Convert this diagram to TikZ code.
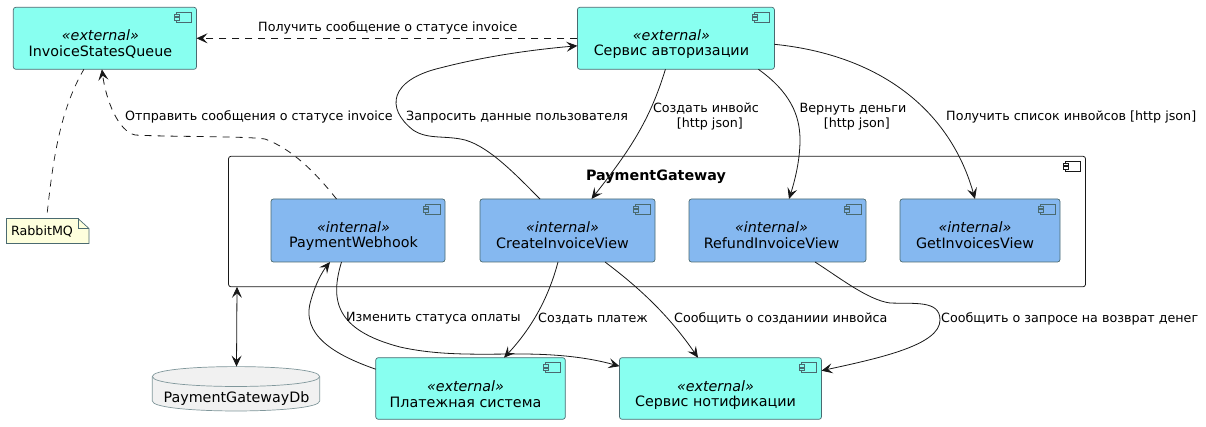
\documentclass[tikz,border=0pt]{standalone}
\usepackage{fontspec}
\setmainfont{DejaVu Sans}
\usetikzlibrary{arrows.meta}
\definecolor{extfill}{HTML}{88FFF0}
\definecolor{intfill}{HTML}{85B8F0}
\definecolor{notefill}{HTML}{FEFFDD}
\definecolor{dbfill}{HTML}{F1F1F1}
\definecolor{ink}{HTML}{181818}
\definecolor{edge}{HTML}{4A6A70}
\colorlet{externalfill}{extfill}
\colorlet{internalfill}{intfill}
\newcommand{\fmain}{\fontsize{14.3}{16}\selectfont}
\newcommand{\flab}{\fontsize{13}{15}\selectfont}
\tikzset{
  x=1pt,y=-1pt,
  box/.style={draw=edge,line width=.7pt,rounded corners=2.5pt,inner sep=0pt,outer sep=0pt,anchor=north west},
  ext/.style={box,fill=extfill},
  int/.style={box,fill=intfill},
  pkgbox/.style={draw=ink,line width=.8pt,rounded corners=2.5pt,inner sep=0pt,outer sep=0pt,anchor=north west},
  ctext/.style={font=\fmain,text=black,align=center,inner sep=0pt},
  lab/.style={font=\flab,text=black,align=center,inner sep=0pt,transform shape,scale=.977},
  conn/.style={draw=ink,line width=.8pt,-{Stealth[length=11pt,width=10pt,inset=4.5pt]}},
  connd/.style={conn,dash pattern=on 7pt off 6pt},
  plain/.style={draw=ink,line width=.7pt,dash pattern=on 7pt off 6pt},
  both/.style={draw=ink,line width=.8pt,{Stealth[length=11pt,width=10pt,inset=4.5pt]}-{Stealth[length=11pt,width=10pt,inset=4.5pt]}},
  icon/.style={draw=edge,line width=.7pt,fill=none}
}
\newcommand{\cmp}[9]{%
  \node[#6,minimum width=#4pt,minimum height=#5pt] (#1) at (#2,#3) {};
  \node[ctext] (#1-s) at ([shift={(#9,28)}]#1.north) {\itshape «#7»};
  \node[ctext] (#1-t) at ([shift={(#9,44.5)}]#1.north) {#8};
  \draw[icon] ([shift={(-20,5)}]#1.north east) rectangle ([shift={(-5,15)}]#1.north east);
  \draw[icon,fill=#7fill] ([shift={(-22,7)}]#1.north east) rectangle ([shift={(-17,9.5)}]#1.north east);
  \draw[icon,fill=#7fill] ([shift={(-22,10.5)}]#1.north east) rectangle ([shift={(-17,13)}]#1.north east);
}
\begin{document}
\begin{tikzpicture}
\useasboundingbox (0,0) rectangle (1206,427);
% package
\node[pkgbox,minimum width=857pt,minimum height=130.5pt] (pkg) at (228.5,156.3) {};
\draw[draw=ink,line width=.7pt] ([shift={(-20,5)}]pkg.north east) rectangle ([shift={(-5,15)}]pkg.north east);
\draw[draw=ink,line width=.7pt,fill=white] ([shift={(-22,7)}]pkg.north east) rectangle ([shift={(-17,9.5)}]pkg.north east);
\draw[draw=ink,line width=.7pt,fill=white] ([shift={(-22,10.5)}]pkg.north east) rectangle ([shift={(-17,13)}]pkg.north east);
\node[ctext,font=\fmain\bfseries] (pkg-t) at (656,177) {PaymentGateway};
% components
\cmp{isq}{13.3}{7.3}{183.2}{62}{ext}{external}{InvoiceStatesQueue}{-4.5}
\cmp{auth}{577.4}{7.3}{197}{62}{ext}{external}{Сервис авторизации}{-4.5}
\cmp{pw}{271}{199}{174}{63}{int}{internal}{PaymentWebhook}{-4.5}
\cmp{civ}{480}{199}{175}{63}{int}{internal}{CreateInvoiceView}{-5}
\cmp{riv}{689}{199}{177}{63}{int}{internal}{RefundInvoiceView}{-6}
\cmp{giv}{900}{199}{160}{63}{int}{internal}{GetInvoicesView}{-5}
\cmp{pay}{375.7}{357.7}{189.6}{61.6}{ext}{external}{Платежная система}{-5}
\cmp{not}{619.5}{357.7}{202}{61.6}{ext}{external}{Сервис нотификации}{-5}
% note
\node[inner sep=0pt,outer sep=0pt,anchor=north west,minimum width=82.5pt,minimum height=25pt] (note) at (6.5,218.5) {};
\draw[draw=edge,line width=.7pt,fill=notefill] (note.north west) -- ([xshift=-11pt]note.north east) -- ([yshift=-10pt]note.north east) -- (note.south east) -- (note.south west) -- cycle;
\draw[draw=edge,line width=.7pt] ([xshift=-11pt]note.north east) -- ([shift={(-11,10)}]note.north east) -- ([yshift=-10pt]note.north east);
\node[lab] (note-t) at (42,231) {RabbitMQ};
% database
\node[inner sep=0pt,outer sep=0pt,anchor=north west,minimum width=167.4pt,minimum height=44.5pt] (db) at (152.3,366.6) {};
\draw[draw=edge!70,line width=.7pt,fill=dbfill] (152.3,376.5) .. controls (152.3,363.3) and (319.7,363.3) .. (319.7,376.5) -- (319.7,401) .. controls (319.7,414.3) and (152.3,414.3) .. (152.3,401) -- cycle;
\draw[draw=edge!70,line width=.7pt] (152.3,376.5) .. controls (152.3,389.8) and (319.7,389.8) .. (319.7,376.5);
\node[ctext] (db-t) at (236.5,398.5) {PaymentGatewayDb};
% connectors
\draw[connd] ([shift={(0,31)}]auth.north west) -- ([shift={(0,31)}]isq.north east);
\draw[plain] ([shift={(-0.5,-6)}]note.north) .. controls (53,160) and (60,110) .. ([xshift=-21pt]isq.south);
\draw[connd] ([xshift=-21.5pt]pw.north) .. controls (315,172) and (292,149) .. (265,139) .. controls (245,136) and (170,137) .. (135,135) .. controls (118,131) and (106,100) .. ([xshift=-3pt]isq.south);
\draw[conn] ([xshift=-27.5pt]civ.north) .. controls (518,177) and (490,147) .. (465,140) .. controls (445,135) and (428,140) .. (413,130) .. controls (385,108) and (390,80) .. (440,68) .. controls (490,55) and (540,49) .. ([shift={(0,38.5)}]auth.north west);
\draw[conn] ([xshift=-10.5pt]auth.south) .. controls (650,120) and (630,150) .. ([xshift=24pt]civ.north);
\draw[conn] ([xshift=82.5pt]auth.south) .. controls (790,92) and (800,115) .. (800,140) .. controls (800,160) and (795,180) .. ([xshift=11.5pt]riv.north);
\draw[conn] ([shift={(0,37)}]auth.north east) .. controls (880,55) and (950,110) .. ([xshift=-5pt]giv.north);
\draw[conn] ([xshift=-16.5pt]pw.south) .. controls (330,300) and (335,330) .. (400,347) .. controls (440,356) and (480,354) .. (520,354) .. controls (560,354) and (590,358) .. ([shift={(0,8.5)}]not.north west);
\draw[conn] ([shift={(0,11.5)}]pay.north west) .. controls (335,355) and (300,335) .. (311,300) .. controls (315,285) and (322,272) .. ([xshift=-28pt]pw.south);
\draw[conn] ([xshift=-9.5pt]civ.south) .. controls (548,300) and (530,330) .. ([xshift=33.5pt]pay.north);
\draw[conn] ([xshift=37.5pt]civ.south) .. controls (645,292) and (672,320) .. ([xshift=-22.5pt]not.north);
\draw[conn] ([xshift=37.5pt]riv.south) .. controls (840,278) and (868,300) .. (890,303) .. controls (915,304) and (940,300) .. (940,320) .. controls (940,345) and (880,358) .. ([shift={(0,13)}]not.north east);
\draw[both] ([xshift=8.5pt]pkg.south west) -- ([xshift=0.5pt]db.north);
% labels
\node[lab,anchor=west] (l1) at (258,28) {Получить сообщение о статусе invoice};
\node[lab,anchor=west] (l2) at (125,117) {Отправить сообщения о статусе invoice};
\node[lab,anchor=west] (l3) at (406,117) {Запросить данные пользователя};
\node[lab] (l4) at (706,116.5) {Создать инвойс\\\hspace*{8pt}[http json]};
\node[lab] (l5) at (853,116.5) {Вернуть деньги\\\hspace*{8pt}[http json]};
\node[lab,anchor=west] (l6) at (946,117) {Получить список инвойсов [http json]};
\node[lab,anchor=west] (l7) at (346,318.5) {Изменить статуса оплаты};
\node[lab,anchor=west] (l8) at (538,318.5) {Создать платеж};
\node[lab,anchor=west] (l9) at (674,318.5) {Сообщить о созданиии инвойса};
\node[lab,anchor=west] (l10) at (941,318.5) {Сообщить о запросе на возврат денег};
\end{tikzpicture}
\end{document}
